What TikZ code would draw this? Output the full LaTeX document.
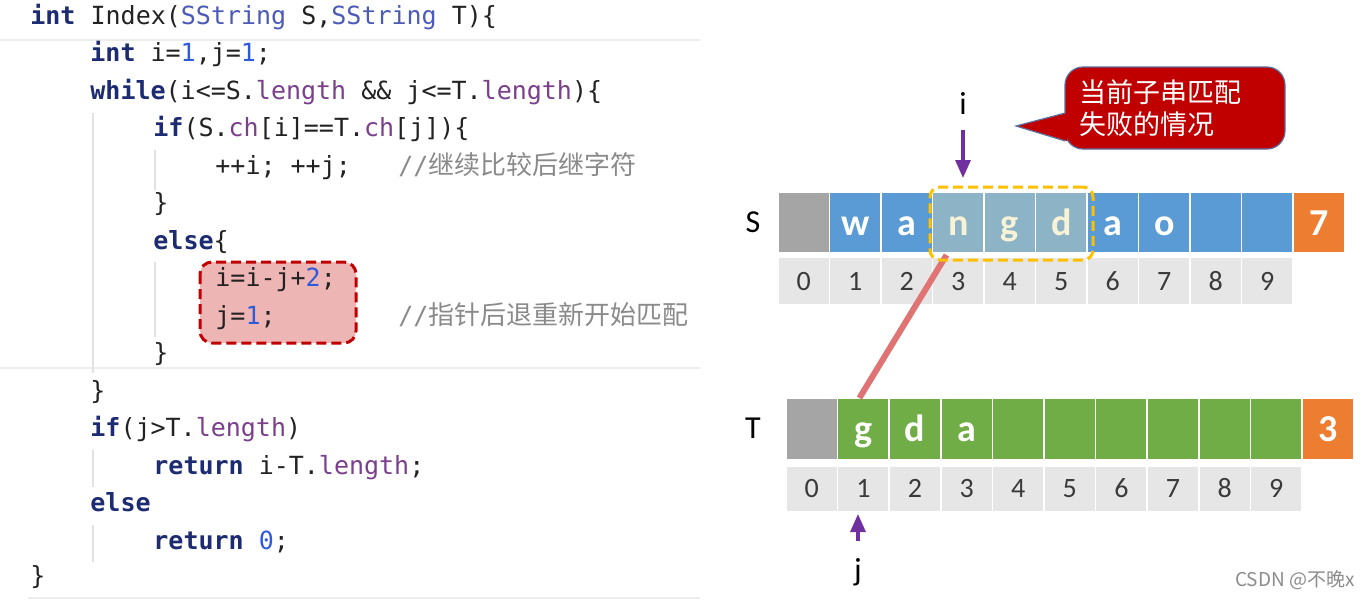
\documentclass[tikz,border=0pt]{standalone}
\usepackage{fontspec}
\usepackage{graphicx}
\setmainfont{Carlito}
\setmonofont{DejaVu Sans Mono}
\newfontfamily\cjk{Noto Sans CJK SC}
\usetikzlibrary{arrows.meta}
\definecolor{kwc}{HTML}{1C2B72}
\definecolor{numc}{HTML}{2F5BD8}
\definecolor{propc}{HTML}{7B3F8C}
\definecolor{typc}{HTML}{4C5BB8}
\definecolor{cmt}{HTML}{8A8A8A}
\definecolor{codetxt}{HTML}{222222}
\definecolor{guide}{HTML}{E2E2E2}
\definecolor{boxred}{HTML}{C00000}
\definecolor{boxfill}{HTML}{EEB5B5}
\definecolor{cblue}{HTML}{5B9BD5}
\definecolor{chl}{HTML}{8DB3C7}
\definecolor{cgreen}{HTML}{70AD47}
\definecolor{corange}{HTML}{ED7D31}
\definecolor{cgray}{HTML}{A5A5A5}
\definecolor{cidx}{HTML}{E7E6E6}
\definecolor{idxtxt}{HTML}{3A3A3A}
\definecolor{hlyellow}{HTML}{FFC000}
\definecolor{ptr}{HTML}{7030A0}
\definecolor{linkc}{HTML}{E07474}
\definecolor{hltext}{HTML}{F8F3D6}
\definecolor{calloutedge}{HTML}{5A6FA0}
\newcommand{\ckw}[1]{\textbf{\color{kwc}#1}}
\newcommand{\cnum}[1]{{\color{numc}#1}}
\newcommand{\cprop}[1]{{\color{propc}#1}}
\newcommand{\ctyp}[1]{{\color{typc}#1}}
\newcommand{\ccjk}[1]{{\cjk\fontsize{13}{16}\selectfont #1}}
\begin{document}
\begin{tikzpicture}[x=0.5pt,y=-0.5pt,
 codeline/.style={anchor=mid west, inner sep=0pt, text=codetxt, font=\ttfamily\fontsize{12.5}{15}\selectfont},
 cmtline/.style={codeline, text=cmt},
 guideline/.style={draw=guide, line width=0.7pt},
 cellbox/.style={minimum width=25.75pt, minimum height=30.5pt, inner sep=0pt, outer sep=0pt, draw=white, line width=0.8pt, text=white, font=\bfseries\fontsize{19}{20}\selectfont, text height=12.5pt, text depth=0pt},
 idxbox/.style={minimum width=25.75pt, minimum height=24pt, inner sep=0pt, outer sep=0pt, draw=white, line width=0.8pt, fill=cidx, text=idxtxt, font=\fontsize{14}{15}\selectfont, text height=9pt, text depth=0pt},
 lbl/.style={inner sep=0pt, font=\fontsize{16}{18}\selectfont, text=black},
 ptrarrow/.style={draw=ptr, line width=1.6pt, -{Triangle[width=7.5pt,length=9pt]}},
]
\fill[white] (0,0) rectangle (1371,600);
\useasboundingbox (0,0) rectangle (1371,600);

% faint editor separators
\draw[draw=black!7, line width=0.6pt] (0,40) -- (700,40);
\draw[draw=black!7, line width=0.6pt] (0,368) -- (700,368);
\draw[draw=black!7, line width=0.6pt] (28,598) -- (700,598);

% indentation guides
\draw[guideline] (93,113) -- (93,373);
\draw[guideline] (155,150) -- (155,190);
\draw[guideline] (155,262) -- (155,337);
\draw[guideline] (93,450) -- (93,487);
\draw[guideline] (93,525) -- (93,562);

% highlighted statements
\draw[draw=boxred, fill=boxfill, line width=1.5pt, dash pattern=on 5pt off 2.5pt, rounded corners=6pt] (200,262) rectangle (356,343);

% code
\node[codeline] (c1) at (30,20) {\ckw{int} Index(\ctyp{SString} S,\ctyp{SString} T)\{};
\node[codeline] (c2) at (90,57) {\ckw{int} i=\cnum{1},j=\cnum{1};};
\node[codeline] (c3) at (90,95) {\ckw{while}(i<=S.\cprop{length} \&\& j<=T.\cprop{length})\{};
\node[codeline] (c4) at (153,132) {\ckw{if}(S.\cprop{ch}[i]==T.\cprop{ch}[j])\{};
\node[codeline] (c5) at (215,170) {++i; ++j;};
\node[cmtline] (m1) at (398,170) {//\ccjk{继续比较后继字符}};
\node[codeline] (c6) at (153,207) {\}};
\node[codeline] (c7) at (153,245) {\ckw{else}\{};
\node[codeline] (c8) at (215,282) {i=i-j+\cnum{2};};
\node[codeline] (c9) at (215,320) {j=\cnum{1};};
\node[cmtline] (m2) at (398,320) {//\ccjk{指针后退重新开始匹配}};
\node[codeline] (c10) at (153,357) {\}};
\node[codeline] (c11) at (90,395) {\}};
\node[codeline] (c12) at (90,432) {\ckw{if}(j>T.\cprop{length})};
\node[codeline] (c13) at (153,470) {\ckw{return} i-T.\cprop{length};};
\node[codeline] (c14) at (90,507) {\ckw{else}};
\node[codeline] (c15) at (153,545) {\ckw{return} \cnum{0};};
\node[codeline] (c16) at (30,580) {\}};

% S string
\node[lbl] (sl) at (753,222) {S};
\foreach \k/\c/\tc/\t in {0/cgray/white/{},1/cblue/white/w,2/cblue/white/a,3/chl/hltext/n,4/chl/hltext/g,5/chl/hltext/d,6/cblue/white/a,7/cblue/white/o,8/cblue/white/{},9/cblue/white/{},10/corange/white/7}
  \node[cellbox, fill=\c, text=\tc] (s\k) at ({778+51.5*(\k+0.5)},222.5) {\t};
\foreach \k in {0,...,9}
  \node[idxbox] (si\k) at ({778+51.5*(\k+0.5)},281) {\k};

% T string
\node[lbl] (tl) at (753,428) {T};
\foreach \k/\c/\t in {0/cgray/{},1/cgreen/g,2/cgreen/d,3/cgreen/a,4/cgreen/{},5/cgreen/{},6/cgreen/{},7/cgreen/{},8/cgreen/{},9/cgreen/{},10/corange/3}
  \node[cellbox, minimum height=31pt, fill=\c] (t\k) at ({786+51.6*(\k+0.5)},429) {\t};
\foreach \k in {0,...,9}
  \node[idxbox, minimum height=23pt, text height=8.5pt] (ti\k) at ({786+51.6*(\k+0.5)},489) {\k};

% link between mismatch positions
\draw[draw=linkc, line width=3pt] ([xshift=7pt,yshift=1pt]s3.south west |- si3.north) -- ([xshift=-2pt]t1.north);

% current substring box
\node[draw=hlyellow, line width=1.5pt, dash pattern=on 5pt off 2.5pt, rounded corners=5pt, minimum width=81.5pt, minimum height=36.5pt, inner sep=0pt] (hl) at (1011.5,223.5) {};

% pointers
\node[lbl] (il) at (963,103) {i};
\draw[ptrarrow, shorten >=7pt] ([yshift=-8pt]il.south) -- (il.south |- s3.north);
\node[lbl] (jl) at (858,572) {j};
\draw[ptrarrow, shorten >=1pt] ([yshift=8.5pt]jl.north) -- (jl.north |- ti1.south);

% callout
\node[fill=boxred, draw=calloutedge, line width=0.6pt, rounded corners=9pt, minimum width=110pt, minimum height=41pt, inner sep=0pt, text width=96pt, align=left, text=white, font=\cjk\fontsize{13.5}{16}\selectfont] (callout) at (1175,108) {当前子串匹配\\失败的情况};
\coordinate (ctip) at (1016,126);
\fill[boxred] (1067,113) -- (ctip) -- (1067,141) -- cycle;
\draw[draw=calloutedge, line width=0.6pt] (1065.3,113) -- (ctip) -- (1065.3,141);

% watermark
\node[inner sep=0pt, text=black!45, font=\cjk\fontsize{9.5}{11}\selectfont] (wm) at (1295,580) {CSDN @不晚x};
\end{tikzpicture}
\end{document}
